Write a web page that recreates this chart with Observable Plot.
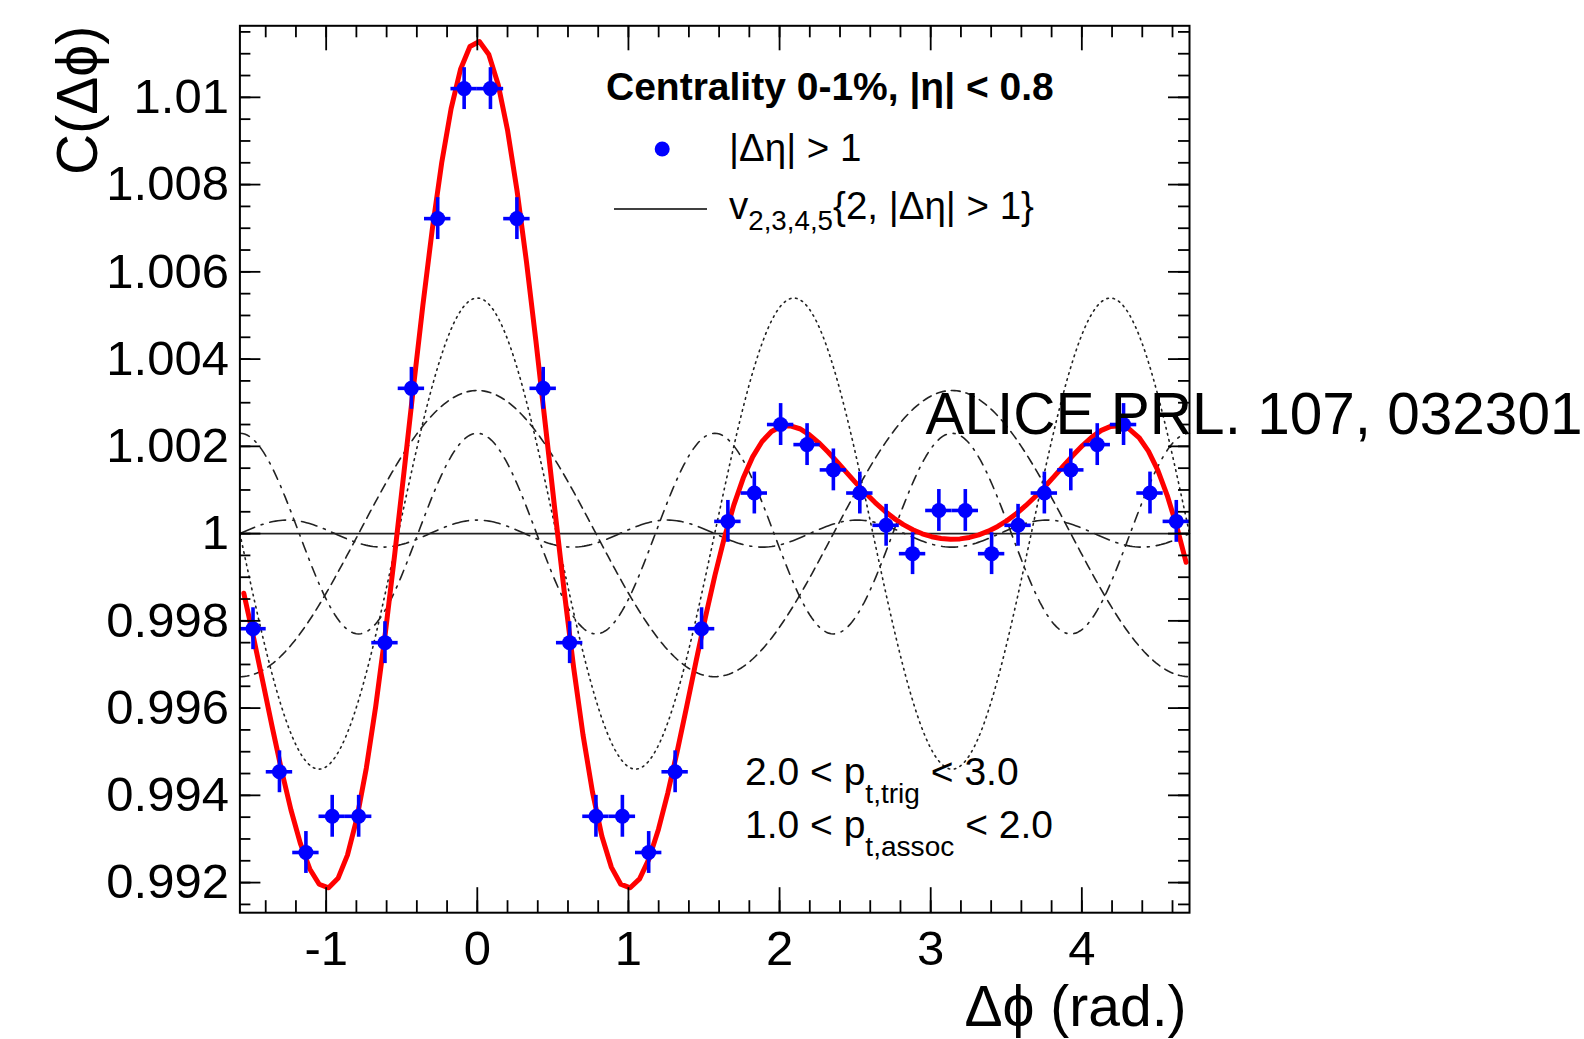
<!DOCTYPE html>
<html>
<head>
<meta charset="utf-8">
<script src="https://cdn.jsdelivr.net/npm/d3@7"></script>
<script src="https://cdn.jsdelivr.net/npm/@observablehq/plot@0.6"></script>
<style>
  html, body { margin: 0; padding: 0; background: #fff; }
  #chart { width: 1584px; height: 1039px; overflow: hidden; }
  svg { font-family: "Liberation Sans", Arial, Helvetica, sans-serif; }
</style>
</head>
<body>
<div id="chart"></div>
<script>
// ---------------- data ----------------
// bin centres of Δφ (rad.)
const dphi = [-1.484, -1.309, -1.134, -0.960, -0.785, -0.611, -0.436, -0.262, -0.087,
               0.087,  0.262,  0.436,  0.611,  0.785,  0.960,  1.134,  1.309,  1.484,
               1.658,  1.833,  2.007,  2.182,  2.356,  2.531,  2.705,  2.880,  3.054,
               3.229,  3.403,  3.578,  3.752,  3.927,  4.102,  4.276,  4.451,  4.625];
// C(Δφ) for |Δη| > 1
const corr = [0.99782, 0.99454, 0.99269, 0.99352, 0.99352, 0.99750, 1.00333, 1.00722, 1.01020,
              1.01020, 1.00722, 1.00333, 0.99750, 0.99352, 0.99352, 0.99269, 0.99454, 0.99782,
              1.00028, 1.00093, 1.00250, 1.00204, 1.00146, 1.00093, 1.00019, 0.99954, 1.00053,
              1.00053, 0.99954, 1.00019, 1.00093, 1.00146, 1.00204, 1.00250, 1.00093, 1.00028];
// statistical error on C(Δφ)
const corrErr = [0.00048, 0.00048, 0.00048, 0.00048, 0.00048, 0.00048, 0.00048, 0.00048, 0.00048,
                 0.00048, 0.00048, 0.00048, 0.00048, 0.00048, 0.00048, 0.00048, 0.00048, 0.00048,
                 0.00048, 0.00048, 0.00048, 0.00048, 0.00048, 0.00048, 0.00048, 0.00048, 0.00048,
                 0.00048, 0.00048, 0.00048, 0.00048, 0.00048, 0.00048, 0.00048, 0.00048, 0.00048];
const binHalfWidth = 0.0873;          // half of the Δφ bin width (rad.)
// Fourier components 1 + 2 v_n^2 cos(nΔφ): order and amplitude (2 v_n^2)
const harmonicOrder = [2, 3, 4, 5];
const harmonicAmp   = [0.00328, 0.00540, 0.00230, 0.00031];
const fitRange = [-1.545, 4.690];     // Δφ span of the drawn red sum
const xDomain = [-Math.PI / 2, 3 * Math.PI / 2];
const yDomain = [0.99131, 1.01164];
const xTickLabels = [-1, 0, 1, 2, 3, 4];
const yTickLabels = [0.992, 0.994, 0.996, 0.998, 1.000, 1.002, 1.004, 1.006, 1.008, 1.010];

// ---------------- layout ----------------
const W = 1584, H = 1039;
const mL = 239.4, mR = W - 1189, mT = 25.3, mB = H - 912.2;
const fw = W - mL - mR, fh = H - mT - mB;
const FONT = '"Liberation Sans", Arial, Helvetica, sans-serif';

const points = dphi.map((x, i) => ({x, y: corr[i], e: corrErr[i]}));

// curve sampling
const nSamp = 400;
const comp = harmonicOrder.map((n, k) =>
  d3.range(nSamp + 1).map(i => {
    const x = xDomain[0] + i * (xDomain[1] - xDomain[0]) / nSamp;
    return {x, y: 1 + harmonicAmp[k] * Math.cos(n * x)};
  }));
const fit = d3.range(101).map(i => {
  const x = fitRange[0] + i * (fitRange[1] - fitRange[0]) / 100;
  return {x, y: 1 + d3.sum(harmonicOrder, (n, k) => harmonicAmp[k] * Math.cos(n * x))};
});

const compStyles = [
  {strokeDasharray: "9,6"},            // n = 2 dashed
  {strokeDasharray: "1.6,4.6"},        // n = 3 dotted
  {strokeDasharray: "10,7,2,7"},       // n = 4 dash-dot
  {strokeDasharray: "16,7,2,7"}        // n = 5 long dash-dot
];

const xMinor = d3.range(-1.4, 4.7, 0.2).map(v => +v.toFixed(2));
const yMinor = d3.range(0.9915, 1.0116, 0.0005).map(v => +v.toFixed(4));

const tickStyle = {stroke: "black", strokeWidth: 1.8};

const chart = Plot.plot({
  width: W, height: H,
  marginLeft: mL, marginRight: mR, marginTop: mT, marginBottom: mB,
  style: {fontFamily: FONT, background: "white", overflow: "visible"},
  x: {domain: xDomain},
  y: {domain: yDomain},
  marks: [
    ...comp.map((c, k) => Plot.line(c, {x: "x", y: "y", stroke: "#222", strokeWidth: 1.6, ...compStyles[k]})),
    Plot.ruleY([1], {stroke: "#222", strokeWidth: 1.6}),
    Plot.line(fit, {x: "x", y: "y", stroke: "#ff0000", strokeWidth: 5, strokeLinejoin: "round"}),
    Plot.ruleX(points, {x: "x", y1: d => d.y - d.e, y2: d => d.y + d.e, stroke: "#0000ff", strokeWidth: 3.6}),
    Plot.ruleY(points, {y: "y", x1: d => d.x - binHalfWidth, x2: d => d.x + binHalfWidth, stroke: "#0000ff", strokeWidth: 3.6}),
    Plot.dot(points, {x: "x", y: "y", r: 7.5, fill: "#0000ff", stroke: null}),
    // inward ticks: bottom, top, left, right
    Plot.tickX(xTickLabels, {x: d => d, insetTop: fh - 25, ...tickStyle}),
    Plot.tickX(xMinor, {x: d => d, insetTop: fh - 12, ...tickStyle}),
    Plot.tickX(xTickLabels, {x: d => d, insetBottom: fh - 25, ...tickStyle}),
    Plot.tickX(xMinor, {x: d => d, insetBottom: fh - 12, ...tickStyle}),
    Plot.tickY(yTickLabels, {y: d => d, insetRight: fw - 21, ...tickStyle}),
    Plot.tickY(yMinor, {y: d => d, insetRight: fw - 11, ...tickStyle}),
    Plot.tickY(yTickLabels, {y: d => d, insetLeft: fw - 21, ...tickStyle}),
    Plot.tickY(yMinor, {y: d => d, insetLeft: fw - 11, ...tickStyle}),
    Plot.frame({stroke: "black", strokeWidth: 2}),
    // tick labels
    Plot.axisX(xTickLabels, {tickSize: 0, tickPadding: 18, fontSize: 49, fill: "black",
      tickFormat: d => String(d), label: null}),
    Plot.axisY(yTickLabels, {tickSize: 0, tickPadding: 11, fontSize: 49, fill: "black",
      tickFormat: d => String(+d.toFixed(3)), label: null}),
    // axis titles
    Plot.text(["Δϕ (rad.)"], {frameAnchor: "bottom-right", textAnchor: "end", lineAnchor: "bottom",
      dx: -3, dy: 1025 - 912.2, fontSize: 57, fill: "black"}),
    Plot.text(["C(Δϕ)"], {frameAnchor: "top-left", rotate: -90, textAnchor: "end", lineAnchor: "bottom",
      dx: 96 - mL, dy: 0, fontSize: 57, fill: "black"}),
    // legend marker
    Plot.dot([0], {frameAnchor: "top-left", dx: 661.7 - mL, dy: 148.5 - mT, r: 7.5, fill: "#0000ff"}),
    // reference annotation
    Plot.text(["ALICE PRL. 107, 032301"], {frameAnchor: "top-left", textAnchor: "start", lineAnchor: "bottom",
      dx: 925 - mL, dy: 433 - mT, fontSize: 58.5, fill: "black"})
  ]
});

document.getElementById("chart").appendChild(chart);

// ---------- legend & kinematic labels with sub-scripts ----------
const svg = d3.select(chart);
const g = svg.append("g").attr("font-family", FONT).attr("fill", "black").attr("text-anchor", "start");

function rich(x, y, parts, size, weight, subScale) {
  const t = g.append("text").attr("x", x).attr("y", y).attr("text-anchor", "start")
    .attr("font-size", size).attr("font-weight", weight || "normal");
  let shift = 0;
  parts.forEach(p => {
    const ts = t.append("tspan").text(p.t);
    const want = p.sub ? p.sub : 0;
    if (want !== shift) { ts.attr("dy", want - shift); shift = want; }
    if (p.sub) ts.attr("font-size", size * (subScale || 0.7));
  });
  return t;
}

rich(606, 100, [{t: "Centrality 0-1%, |η| < 0.8"}], 39, "bold");
rich(729, 161, [{t: "|Δη| > 1"}], 38.5);
g.append("line").attr("x1", 614).attr("x2", 707).attr("y1", 209).attr("y2", 209)
  .attr("stroke", "black").attr("stroke-width", 1.6);
rich(729, 219, [{t: "v"}, {t: "2,3,4,5", sub: 11}, {t: "{2, |Δη| > 1}"}], 38.5, "normal", 0.72);
rich(745, 785, [{t: "2.0 < p"}, {t: "t,trig", sub: 18}, {t: " < 3.0"}], 39, "normal", 0.72);
rich(745, 838, [{t: "1.0 < p"}, {t: "t,assoc", sub: 18}, {t: " < 2.0"}], 39, "normal", 0.72);
</script>
</body>
</html>
